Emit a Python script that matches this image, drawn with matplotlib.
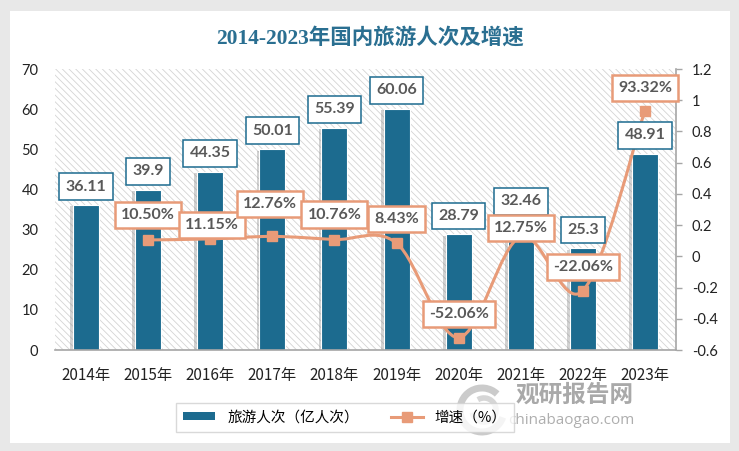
import matplotlib
matplotlib.use("Agg")
import matplotlib.pyplot as plt
import numpy as np
from matplotlib.patches import Rectangle, PathPatch, Arc
from matplotlib.path import Path
from matplotlib.lines import Line2D
import matplotlib.patheffects as pe

# ---------------- data ----------------
years = ["2014年", "2015年", "2016年", "2017年", "2018年", "2019年", "2020年", "2021年", "2022年", "2023年"]
trips = [36.11, 39.9, 44.35, 50.01, 55.39, 60.06, 28.79, 32.46, 25.3, 48.91]
trip_labels = ["36.11", "39.9", "44.35", "50.01", "55.39", "60.06", "28.79", "32.46", "25.3", "48.91"]
growth_idx = [1, 2, 3, 4, 5, 6, 7, 8, 9]
growth = [0.1050, 0.1115, 0.1276, 0.1076, 0.0843, -0.5206, 0.1275, -0.2206, 0.9332]
growth_labels = ["10.50%", "11.15%", "12.76%", "10.76%", "8.43%", "-52.06%", "12.75%", "-22.06%", "93.32%"]
left_ticks = [0, 10, 20, 30, 40, 50, 60, 70]
right_ticks = [-0.6, -0.4, -0.2, 0, 0.2, 0.4, 0.6, 0.8, 1.0, 1.2]
right_tick_labels = ["-0.6", "-0.4", "-0.2", "0", "0.2", "0.4", "0.6", "0.8", "1", "1.2"]
title = "2014-2023年国内旅游人次及增速"
legend_labels = ["旅游人次（亿人次）", "增速（%）"]

# label offsets (pixels) for growth labels
growth_off = [(0, 25), (2, 14), (-2, 32), (0, 25), (0, 24), (0, 24), (0, 8), (0, 24), (0, 23)]

# ---------------- style ----------------
BAR = "#1c6b8f"
ORANGE = "#e89b78"
TXT = "#595959"
CJK = ["Noto Sans CJK SC", "DejaVu Sans"]
NUM = ["Lato", "DejaVu Sans"]

plt.rcParams["hatch.color"] = "#d4d4d4"
plt.rcParams["hatch.linewidth"] = 0.6

W, H = 739, 451
fig = plt.figure(figsize=(W / 100, H / 100), dpi=100, facecolor="#e8e8e8")

# white card
fig.patches.append(Rectangle((10 / W, 8 / H), 720 / W, 432 / H, transform=fig.transFigure,
                             facecolor="white", edgecolor="none", zorder=-5))

ax = fig.add_axes([55 / W, (H - 350) / H, (676 - 55) / W, (350 - 69) / H])
ax.set_facecolor("none")
# hatched plot background
ax.add_patch(Rectangle((0, 0), 1, 1, transform=ax.transAxes, facecolor="white",
                       edgecolor="#d4d4d4", hatch="\\\\\\\\\\", linewidth=0, zorder=0))

x = np.arange(len(years))
bars = ax.bar(x, trips, width=0.42, color=BAR, edgecolor="white", linewidth=0.8, zorder=2)
for b in bars:
    b.set_path_effects([pe.SimplePatchShadow(offset=(-2, -1), shadow_rgbFace="#808080", alpha=0.35),
                        pe.Normal()])

ax.set_xlim(-0.5, len(years) - 0.5)
ax.set_ylim(0, 70)
ax.set_yticks(left_ticks)
ax.set_yticklabels([str(t) for t in left_ticks], family=NUM, fontsize=10.5, color="#222222")
ax.tick_params(axis="y", length=0, pad=12)
ax.set_xticks(x)
ax.set_xticklabels(years, family=CJK, fontsize=11, color="#222222")
ax.tick_params(axis="x", length=0, pad=12)
for s in ["left", "top", "right"]:
    ax.spines[s].set_visible(False)
ax.spines["bottom"].set_color("#a6a6a6")
ax.spines["bottom"].set_linewidth(1.2)
ax.spines["bottom"].set_zorder(3)

# right axis
ax2 = ax.twinx()
ax2.set_ylim(-0.6, 1.2)
ax2.set_yticks(right_ticks)
ax2.set_yticklabels(right_tick_labels, family=NUM, fontsize=10.5, color="#222222")
ax2.tick_params(axis="y", direction="out", length=4.5, width=1, color="#a6a6a6", pad=7)
for s in ["left", "top", "bottom"]:
    ax2.spines[s].set_visible(False)
ax2.spines["right"].set_color("#a6a6a6")
ax2.spines["right"].set_linewidth(1.2)

# smooth line (Catmull-Rom as cubic Bezier, like Excel smoothed line)
P = np.column_stack([growth_idx, growth]).astype(float)
ext = np.vstack([P[0], P, P[-1]])
verts = [tuple(P[0])]
codes = [Path.MOVETO]
for i in range(len(P) - 1):
    p0, p1, p2, p3 = ext[i], ext[i + 1], ext[i + 2], ext[i + 3]
    c1 = p1 + (p2 - p0) / 6.0
    c2 = p2 - (p3 - p1) / 6.0
    verts += [tuple(c1), tuple(c2), tuple(p2)]
    codes += [Path.CURVE4] * 3
ax2.add_patch(PathPatch(Path(verts, codes), facecolor="none", edgecolor=ORANGE, lw=2.2,
                        capstyle="round", joinstyle="round", zorder=3))
ax2.plot(growth_idx, growth, linestyle="none", marker="s", ms=7, color=ORANGE, zorder=3.5)

# bar value labels (above the line, below growth labels)
for xi, v, lab in zip(x, trips, trip_labels):
    ax2.annotate(lab, xy=(xi, v), xycoords=ax.transData, xytext=(0, 18.5), textcoords="offset pixels",
                 ha="center", va="center", fontsize=11.5, fontweight="bold", color=TXT, family=NUM,
                 bbox=dict(boxstyle="square,pad=0.4", fc="white", ec=BAR, lw=1.1), zorder=4)

for xi, v, lab, off in zip(growth_idx, growth, growth_labels, growth_off):
    ax2.annotate(lab, xy=(xi, v), xytext=off, textcoords="offset pixels",
                 ha="center", va="center", fontsize=11.5, fontweight="bold", color=TXT, family=NUM,
                 bbox=dict(boxstyle="square,pad=0.38", fc="white", ec=ORANGE, lw=1.8), zorder=5)

# title
fig.text(370 / W, 1 - 38 / H, title, ha="center", va="center", fontsize=15.5, fontweight="bold",
         color="#2a6f91", family=["Liberation Serif", "Noto Sans CJK SC"])

# legend
h_bar = Rectangle((0, 0), 1, 1, facecolor=BAR, edgecolor="none")
h_line = Line2D([], [], color=ORANGE, lw=2.2, marker="s", ms=7)
leg = fig.legend([h_bar, h_line], legend_labels, loc="center", bbox_to_anchor=(345 / W, 1 - 417.5 / H),
                 ncol=2, frameon=True, fancybox=False, edgecolor="#d0d0d0", prop={"family": CJK, "size": 10.5},
                 handlelength=2.2, handleheight=0.5, columnspacing=2.2, borderpad=0.5)
leg.get_frame().set_linewidth(1.0)

# watermark
fig.text(575 / W, 1 - 395 / H, "观研报告网", ha="center", va="center", fontsize=17, fontweight="bold",
         color="#8c8c8c", alpha=0.75, family=CJK)
fig.text(571 / W, 1 - 420 / H, "chinabaogao.com", ha="center", va="center", fontsize=11,
         color="#9a9a9a", alpha=0.8, family=["Open Sans", "DejaVu Sans"])
fig.patches.append(Arc((482 / W, 1 - 410 / H), 44 / W, 44 / H, theta1=60, theta2=330,
                       transform=fig.transFigure, color="#b5b5b5", lw=5, alpha=0.7))
fig.patches.append(Arc((484 / W, 1 - 410 / H), 24 / W, 24 / H, theta1=200, theta2=470,
                       transform=fig.transFigure, color="#c5c5c5", lw=4, alpha=0.7))

fig.savefig("out.png", dpi=100, facecolor=fig.get_facecolor())
